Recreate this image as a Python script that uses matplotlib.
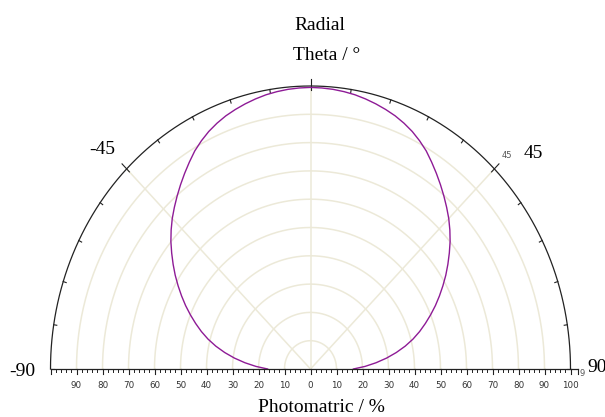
import numpy as np
import matplotlib
matplotlib.use("Agg")
import matplotlib.pyplot as plt

# ---- data ----
theta_half = [0, 2.5, 5, 7.5, 10, 12.5, 15, 17.5, 20, 22.5, 25, 27.5, 30, 32.5, 35, 37.5, 40, 42.5,
              45, 47.5, 50, 52.5, 55, 57.5, 60, 62.5, 65, 67.5, 70, 72.5, 75, 77.5, 80, 82.5, 85, 87.5, 90]
r_half = [99.5, 99.4, 99.2, 98.85, 98.4, 97.75, 97.0, 96.15, 95.2, 94.0, 92.6, 90.9, 89.0, 86.7, 84.4,
          82.1, 79.8, 77.5, 75.2, 72.7, 70.1, 67.3, 64.5, 61.7, 58.8, 55.9, 53.0, 50.0, 47.0, 44.0,
          40.8, 37.3, 33.5, 29.5, 25.3, 21.0, 16.5]
theta_deg = [-a for a in theta_half[::-1]][:-1] + theta_half   # -90..90
radius = r_half[::-1][:-1] + r_half                              # symmetric curve
ring_values = [10, 20, 30, 40, 50, 60, 70, 80, 90]
spoke_angles = [-45, 0, 45]
major_ticks = list(range(-100, 101, 10))
minor_ticks = list(range(-100, 101, 2))
tick_labels = ["", "90", "80", "70", "60", "50", "40", "30", "20", "10", "0",
               "10", "20", "30", "40", "50", "60", "70", "80", "90", "100"]
arc_minor = list(range(-90, 91, 9))

W, H = 605, 417
fig = plt.figure(figsize=(W / 100, H / 100), dpi=100)
ax = fig.add_axes([50.5 / W, 48 / H, 520 / W, 283 / H])
ax.set_xlim(-100, 100)
ax.set_ylim(0, 100)
ax.axis("off")

grid_c = "#ECE9D8"
t = np.radians(np.linspace(-90, 90, 361))
for rv in ring_values:
    ax.plot(rv * np.sin(t), rv * np.cos(t), color=grid_c, lw=1.1, zorder=1, clip_on=False)
for a in spoke_angles:
    ar = np.radians(a)
    ax.plot([0, 100 * np.sin(ar)], [0, 100 * np.cos(ar)], color=grid_c, lw=1.1, zorder=1)

# outer arc
ax.plot(100 * np.sin(t), 100 * np.cos(t), color="#222222", lw=0.9, zorder=3, clip_on=False)
for a in arc_minor:
    ar = np.radians(a)
    if a in (0, 45, -45):
        r0, r1 = 98.5, 102.5
    else:
        r0, r1 = 98.8, 100
    ax.plot([r0 * np.sin(ar), r1 * np.sin(ar)], [r0 * np.cos(ar), r1 * np.cos(ar)],
            color="#222222", lw=0.8, zorder=3, clip_on=False)

# curve
th = np.radians(theta_deg)
rr = np.array(radius)
ax.plot(rr * np.sin(th), rr * np.cos(th), color="#8E1B96", lw=1.0, zorder=4, clip_on=False,
        solid_joinstyle="round")

# bottom radial axis
ax.plot([-100, 103], [0, 0], color="#222222", lw=0.9, zorder=5, clip_on=False)
for v in minor_ticks:
    ax.plot([v, v], [0, -1.1], color="#222222", lw=0.7, zorder=5, clip_on=False)
for v, lab in zip(major_ticks, tick_labels):
    ax.plot([v, v], [0, -1.9], color="#222222", lw=0.8, zorder=5, clip_on=False)
    if lab:
        ax.text(v, -4.2, lab, ha="center", va="top", fontsize=6.3, color="#333333",
                family="DejaVu Sans", clip_on=False)
ax.plot([103, 103], [0, -1.9], color="#222222", lw=0.8, zorder=5, clip_on=False)

serif = "Liberation Serif"
def ftext(x, y, s, size, **kw):
    fig.text(x / W, 1 - y / H, s, fontsize=size, family=kw.pop("family", serif),
             ha=kw.pop("ha", "center"), va=kw.pop("va", "center"), **kw)

ftext(320, 25, "Radial", 14)
ftext(327, 55, "Theta / °", 14)
ftext(102, 150, "-45", 14)
ftext(533, 153, "45", 14)
ftext(507, 155, "45", 6, family="DejaVu Sans", color="#555555")
ftext(22, 372, "-90", 14)
ftext(587, 368, "90", 14, ha="left")
ftext(582, 373, "9", 6, family="DejaVu Sans", color="#555555")
ftext(321, 408, "Photomatric / %", 14)

fig.savefig("out.png", dpi=100)
